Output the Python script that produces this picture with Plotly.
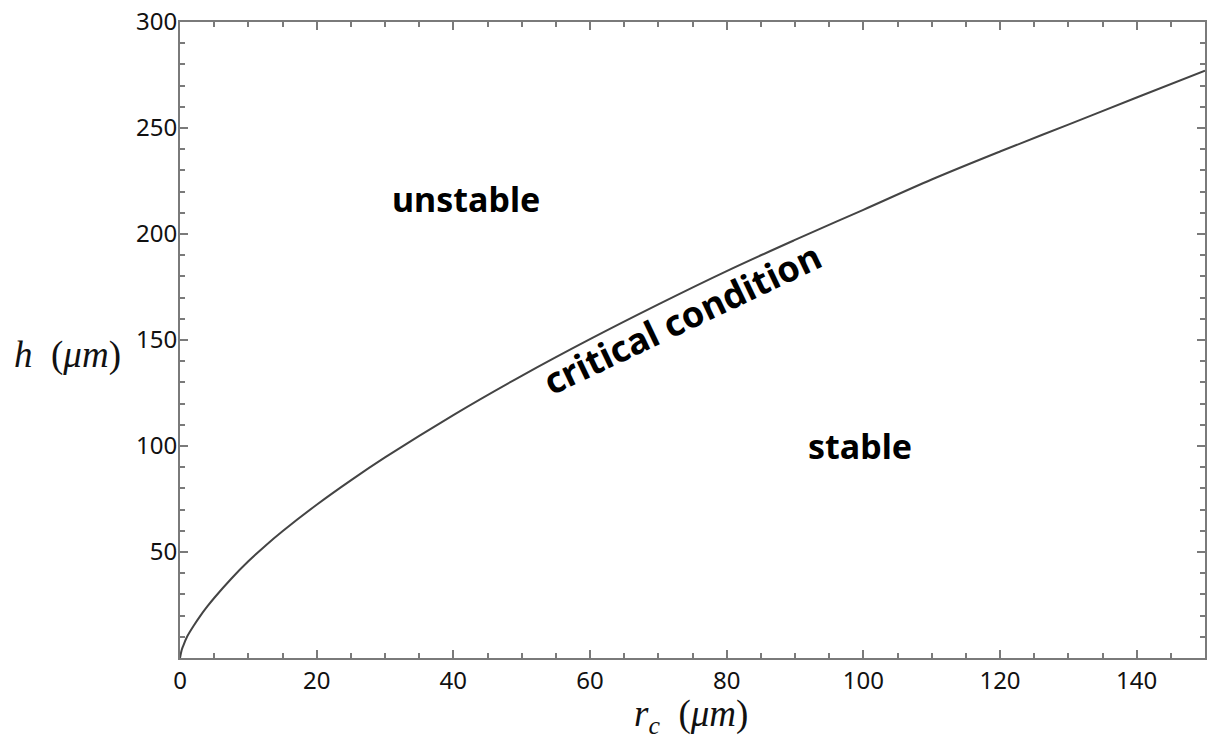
import plotly.graph_objects as go

# critical condition curve
r_c = [0, 0.25, 0.5, 1, 2, 3, 4, 5, 7.5, 10, 12.5, 15, 20, 25, 30, 40, 50, 60,
       70, 80, 90, 100, 110, 120, 130, 140, 150]
h = [0, 3.8, 6, 9.8, 15.2, 20, 24.3, 28.3, 37.4, 45.6, 53, 59.8, 72.3, 83.8,
     94.6, 114.6, 133.1, 150.4, 166.8, 182.5, 197.2, 211.4, 225.7, 238.9,
     251.6, 264.4, 277]

x_ticks = [0, 20, 40, 60, 80, 100, 120, 140]
y_ticks = [50, 100, 150, 200, 250, 300]

region_labels = ["unstable", "stable"]
region_r = [41.8, 99.5]
region_h = [216.5, 100]

curve_label = "critical condition"
curve_label_r = 73.5
curve_label_h = 160.0

AX = "#7a7a7a"
TICKFONT = dict(family="Noto Sans, Open Sans, sans-serif", size=24, color="#111")
LABELFONT = dict(family="Noto Sans, Open Sans, sans-serif", size=34, color="#000")
CURVEFONT = dict(family="Noto Sans, Open Sans, sans-serif", size=36, color="#000")
TITLEFONT = dict(family="Liberation Serif, serif", size=37, color="#111")

fig = go.Figure()
fig.add_trace(go.Scatter(x=r_c, y=h, mode="lines",
                         line=dict(color="#444", width=2, shape="spline", smoothing=1.0),
                         showlegend=False, hoverinfo="skip"))

for t, xr, yh in zip(region_labels, region_r, region_h):
    fig.add_annotation(x=xr, y=yh, text=f"<b>{t}</b>", showarrow=False, font=LABELFONT)

fig.add_annotation(x=curve_label_r, y=curve_label_h, text=f"<b>{curve_label}</b>",
                   showarrow=False, textangle=-25.5, font=CURVEFONT)

# axis titles
fig.add_annotation(xref="paper", yref="paper", x=-0.1636, y=0.476, xanchor="left", yanchor="middle",
                   text="<i>h</i>&nbsp;&nbsp;(<i>μm</i>)", showarrow=False, font=TITLEFONT)
fig.add_annotation(xref="paper", yref="paper", x=0.4985, y=-0.092, xanchor="center", yanchor="middle",
                   text="<i>r</i><sub><i>c</i></sub>&nbsp;&nbsp;(<i>μm</i>)", showarrow=False,
                   font=TITLEFONT)

axis_common = dict(showgrid=False, zeroline=False, showline=True, linecolor=AX, linewidth=2,
                   mirror="ticks", ticks="inside", tickcolor=AX, tickwidth=2, ticklen=8,
                   tickfont=TICKFONT)

fig.update_xaxes(range=[0, 150], tickvals=x_ticks, ticktext=[str(v) for v in x_ticks],
                 minor=dict(ticks="inside", ticklen=5, tickcolor=AX, tickwidth=2, dtick=5, tick0=0),
                 **axis_common)
fig.update_yaxes(range=[0, 300], tickvals=y_ticks, ticktext=[str(v) for v in y_ticks],
                 ticklabelstandoff=-4,
                 minor=dict(ticks="inside", ticklen=5, tickcolor=AX, tickwidth=2, dtick=10, tick0=0),
                 **axis_common)

fig.update_layout(width=1209, height=742, margin=dict(l=180, r=2, t=22, b=84),
                  paper_bgcolor="white", plot_bgcolor="white")

# remove the default 8px page margin so the figure sits at the window's top-left corner
fig.write_html("out.html", config={"displayModeBar": False},
               post_script="document.body.style.margin='0';document.body.style.overflow='hidden';")
